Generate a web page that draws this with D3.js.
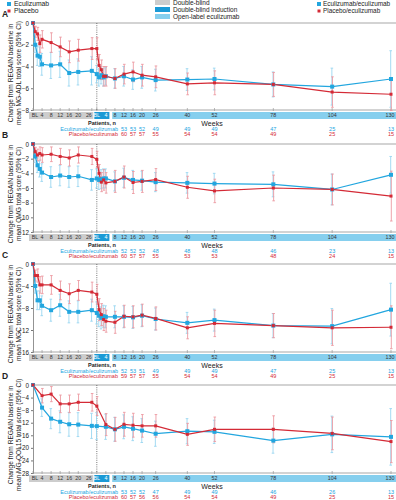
<!DOCTYPE html>
<html>
<head>
<meta charset="utf-8">
<script src="https://cdn.jsdelivr.net/npm/d3@7"></script>
<style>
  body { margin: 0; background: #fff; }
  svg { font-family: "Liberation Sans", Arial, sans-serif; display: block; }
</style>
</head>
<body>
<svg id="chart" width="396" height="500"></svg>
<script>
// weeks: double-blind (REGAIN) and open-label extension
const dbWeeks = [0, 1, 2, 3, 4, 8, 12, 16, 20, 26];
const olWeeks = [0, 1, 2, 3, 4, 8, 12, 16, 20, 26, 40, 52, 78, 104, 130];
const dbWeeksD = [0, 4, 8, 12, 16, 20, 26];
const olWeeksD = [0, 4, 8, 12, 16, 20, 26, 40, 52, 78, 104, 130];

const dbTicks = ["BL", 4, 8, 12, 16, 20, 26];
const dbTickWeeks = [0, 4, 8, 12, 16, 20, 26];
const olTicks = ["BL", 4, 8, 12, 16, 20, 26, 40, 52, 78, 104, 130];
const olTickWeeks = [0, 4, 8, 12, 16, 20, 26, 40, 52, 78, 104, 130];
const tableWeeks = [12, 16, 20, 26, 40, 52, 78, 104, 130];

// A: MG-ADL
const ecuDbA = [0, -2.0, -3.0, -3.1, -3.8, -3.9, -3.8, -4.6, -4.5, -4.4];
const ecuDbCiA = [0, 0.7, 0.9, 0.9, 1.0, 1.2, 1.2, 1.2, 1.2, 1.3];
const plaDbA = [0, -0.8, -1.0, -1.9, -1.5, -1.8, -2.2, -2.65, -2.5, -2.35];
const plaDbCiA = [0, 0.5, 0.6, 0.8, 0.8, 0.9, 0.9, 1.0, 1.0, 1.0];
const ecuOlA = [-4.7, -5.0, -4.8, -5.0, -4.9, -5.1, -4.9, -5.2, -5.0, -5.25, -5.2, -5.15, -5.65, -5.85, -5.15];
const ecuOlCiA = [0.8, 0.8, 0.8, 0.8, 0.8, 0.9, 0.9, 0.9, 1.0, 1.0, 1.0, 1.0, 1.15, 1.7, 2.6];
const plaOlA = [-2.35, -3.9, -4.3, -4.9, -4.9, -5.1, -4.7, -4.5, -4.8, -4.95, -5.6, -5.5, -5.65, -6.35, -6.55];
const plaOlCiA = [1.0, 1.0, 0.9, 0.9, 0.9, 0.9, 0.9, 0.9, 1.0, 1.0, 1.0, 1.1, 1.1, 1.4, 1.5];
const nEcuA = [53, 53, 52, 49, 49, 49, 47, 25, 13];
const nPlaA = [60, 57, 57, 55, 54, 54, 49, 25, 15];

// B: QMG
const ecuDbB = [0, -1.7, -2.9, -3.4, -3.9, -4.5, -4.3, -4.5, -4.4, -4.9];
const ecuDbCiB = [0, 0.8, 1.0, 1.1, 1.2, 1.4, 1.4, 1.4, 1.4, 1.4];
const plaDbB = [0, -1.05, -1.5, -1.3, -1.5, -1.4, -1.7, -1.9, -1.5, -1.7];
const plaDbCiB = [0, 0.6, 0.8, 0.9, 1.0, 1.0, 1.1, 1.1, 1.1, 1.1];
const ecuOlB = [-4.7, -4.9, -4.8, -4.7, -4.7, -5.1, -4.6, -4.9, -5.0, -5.2, -5.3, -5.4, -5.5, -6.2, -4.2];
const ecuOlCiB = [1.3, 1.3, 1.3, 1.3, 1.3, 1.3, 1.3, 1.3, 1.3, 1.3, 1.4, 1.4, 1.7, 2.1, 2.5];
const plaOlB = [-2.1, -4.0, -5.2, -4.9, -5.3, -5.1, -4.5, -5.25, -5.1, -4.85, -5.9, -6.4, -6.0, -6.2, -7.1];
const plaOlCiB = [1.1, 1.2, 1.3, 1.4, 1.4, 1.5, 1.5, 1.5, 1.5, 1.5, 1.5, 1.6, 1.75, 2.1, 3.4];
const nEcuB = [52, 52, 52, 48, 48, 48, 46, 23, 13];
const nPlaB = [60, 57, 57, 55, 53, 53, 48, 24, 15];

// C: MGC
const ecuDbC = [0, -4.0, -6.6, -6.6, -7.6, -8.4, -7.5, -8.7, -8.7, -8.4];
const ecuDbCiC = [0, 1.3, 1.7, 1.7, 1.8, 2.0, 2.0, 2.0, 2.0, 2.0];
const plaDbC = [0, -2.1, -2.1, -3.8, -3.8, -3.8, -4.8, -5.4, -4.8, -5.1];
const plaDbCiC = [0, 1.0, 1.2, 1.5, 1.6, 1.7, 1.7, 1.8, 1.8, 1.8];
const ecuOlC = [-8.9, -9.4, -9.8, -9.5, -9.6, -9.6, -9.6, -9.7, -9.4, -10.0, -10.7, -10.2, -11.2, -11.3, -8.3];
const ecuOlCiC = [2.0, 2.0, 2.0, 2.0, 2.0, 2.0, 2.0, 2.0, 2.0, 2.0, 1.9, 2.0, 2.2, 3.2, 4.8];
const plaOlC = [-5.5, -8.3, -9.2, -10.1, -10.4, -10.6, -9.5, -9.6, -9.3, -9.9, -11.6, -10.8, -11.2, -11.6, -11.5];
const plaOlCiC = [1.8, 2.0, 2.0, 2.0, 2.0, 2.0, 2.0, 2.0, 2.0, 2.1, 2.0, 2.4, 2.2, 3.2, 3.9];
const nEcuC = [52, 53, 51, 49, 49, 49, 47, 25, 13];
const nPlaC = [59, 57, 57, 55, 54, 54, 49, 25, 15];

// D: MG-QOL15
const ecuDbD = [0, -7.2, -10.7, -11.7, -12.5, -12.6, -13.0];
const ecuDbCiD = [0, 2.8, 3.2, 3.5, 3.8, 3.8, 4.0];
const plaDbD = [0, -3.4, -2.9, -6.0, -6.0, -5.5, -5.5];
const plaDbCiD = [0, 2.3, 2.4, 2.8, 2.8, 2.6, 2.8];
const ecuOlD = [-13.1, -13.3, -14.1, -13.3, -13.9, -14.5, -15.5, -14.7, -14.9, -17.7, -15.7, -16.5];
const ecuOlCiD = [4.3, 4.0, 3.8, 3.8, 3.8, 3.8, 4.0, 4.0, 3.7, 4.0, 5.8, 9.0];
const plaOlD = [-6.7, -12.6, -14.1, -12.5, -12.8, -13.0, -13.0, -15.7, -14.1, -14.1, -15.4, -18.0];
const plaOlCiD = [3.0, 3.5, 3.8, 3.8, 3.8, 3.6, 3.6, 3.5, 3.9, 4.3, 5.2, 6.7];
const nEcuD = [53, 52, 52, 47, 49, 49, 46, 26, 13];
const nPlaD = [60, 57, 56, 56, 54, 54, 49, 25, 15];

const BLUE = "#22a6df", BLUE_CI = "#9ad6f1";
const RED = "#d42a36", RED_CI = "#ec9aa1";
const GREY_BAND = "#cdcdcd", DARK_BAND = "#1b9ad6", LIGHT_BAND = "#86cfee";

const svg = d3.select("#chart");
const W = 396;

// continuous time: DB weeks, then a small gap, then OL weeks
const olOffset = 28.2;
const x = d3.scaleLinear().domain([0, olOffset + 130]).range([33, 391]);

function series(dbW, olW, dbV, dbCi, olV, olCi) {
    return dbW.map((w, i) => ({ t: w, v: dbV[i], ci: dbCi[i] }))
        .concat(olW.map((w, i) => ({ t: w + olOffset, v: olV[i], ci: olCi[i] })));
}

const panels = [
    { letter: "A", top: 23, bottom: 110, min: -8, step: 2, score: "mean MG-ADL total score (95% CI)",
      ecu: series(dbWeeks, olWeeks, ecuDbA, ecuDbCiA, ecuOlA, ecuOlCiA),
      pla: series(dbWeeks, olWeeks, plaDbA, plaDbCiA, plaOlA, plaOlCiA), nEcu: nEcuA, nPla: nPlaA },
    { letter: "B", top: 144, bottom: 232, min: -12, step: 2, score: "mean QMG total score (95% CI)",
      ecu: series(dbWeeks, olWeeks, ecuDbB, ecuDbCiB, ecuOlB, ecuOlCiB),
      pla: series(dbWeeks, olWeeks, plaDbB, plaDbCiB, plaOlB, plaOlCiB), nEcu: nEcuB, nPla: nPlaB },
    { letter: "C", top: 264, bottom: 352, min: -16, step: 4, score: "mean MGC total score (95% CI)",
      ecu: series(dbWeeks, olWeeks, ecuDbC, ecuDbCiC, ecuOlC, ecuOlCiC),
      pla: series(dbWeeks, olWeeks, plaDbC, plaDbCiC, plaOlC, plaOlCiC), nEcu: nEcuC, nPla: nPlaC },
    { letter: "D", top: 385, bottom: 473, min: -28, step: 4, score: "mean MG-QOL15 total score (95% CI)",
      ecu: series(dbWeeksD, olWeeksD, ecuDbD, ecuDbCiD, ecuOlD, ecuOlCiD),
      pla: series(dbWeeksD, olWeeksD, plaDbD, plaDbCiD, plaOlD, plaOlCiD), nEcu: nEcuD, nPla: nPlaD }
];

// legends
const legL = svg.append("g");
[["Eculizumab", BLUE, 4], ["Placebo", RED, 11]].forEach(([t, c, yy], i) => {
    const s = i === 0 ? 4 : 3;
    legL.append("rect").attr("x", 9 - s / 2).attr("y", yy - s / 2).attr("width", s).attr("height", s).attr("fill", c);
    legL.append("text").attr("x", 14).attr("y", yy + 2.3).attr("font-size", 6.8).attr("fill", "#222").text(t);
});
const legM = svg.append("g");
[["Double-blind", GREY_BAND, 0], ["Double-blind induction", DARK_BAND, 7], ["Open-label eculizumab", LIGHT_BAND, 14]].forEach(([t, c, yy]) => {
    legM.append("rect").attr("x", 155).attr("y", yy).attr("width", 15).attr("height", 5).attr("fill", c);
    legM.append("text").attr("x", 173).attr("y", yy + 5).attr("font-size", 6.5).attr("fill", "#222").text(t);
});
const legR = svg.append("g");
[["Eculizumab/eculizumab", BLUE, 4], ["Placebo/eculizumab", RED, 11]].forEach(([t, c, yy], i) => {
    const s = i === 0 ? 4 : 3;
    legR.append("rect").attr("x", 319 - s / 2).attr("y", yy - s / 2).attr("width", s).attr("height", s).attr("fill", c);
    legR.append("text").attr("x", 323).attr("y", yy + 2.3).attr("font-size", 6.4).attr("fill", "#222").text(t);
});

panels.forEach(p => {
    const g = svg.append("g");
    const y = d3.scaleLinear().domain([p.min, 0]).range([p.bottom, p.top]);

    g.append("text").attr("x", 2).attr("y", p.top - 6).attr("font-size", 8.5).attr("font-weight", "bold")
        .attr("fill", "#222").text(p.letter);

    // zero line and bottom axis line
    g.append("line").attr("x1", 33).attr("x2", W).attr("y1", y(0)).attr("y2", y(0))
        .attr("stroke", "#a8a8a8").attr("stroke-width", 1.2);
    g.append("line").attr("x1", 33).attr("x2", W).attr("y1", p.bottom).attr("y2", p.bottom)
        .attr("stroke", "#a8a8a8").attr("stroke-width", 1.2);

    // y axis
    const yAxis = d3.axisLeft(y).tickValues(d3.range(0, p.min - 0.1, -p.step)).tickSize(2).tickPadding(2);
    const ya = g.append("g").attr("transform", "translate(33,0)").call(yAxis);
    ya.select(".domain").attr("stroke", "#777").attr("stroke-width", 0.8);
    ya.selectAll(".tick line").attr("stroke", "#777");
    ya.selectAll(".tick text").attr("font-size", 6.3).attr("fill", "#222").attr("font-family", "Liberation Sans, Arial, sans-serif");

    // y title
    const cy = p.top + 50;
    const yt = g.append("text").attr("transform", `translate(12.5,${cy}) rotate(-90)`)
        .attr("text-anchor", "middle").attr("font-size", 6.6).attr("fill", "#222");
    yt.append("tspan").attr("x", 0).attr("dy", 0).text("Change from REGAIN baseline in");
    yt.append("tspan").attr("x", 0).attr("dy", 8).text(p.score);

    // phase bands
    const bT = p.bottom + 2, bH = 7;
    g.append("rect").attr("x", 29).attr("y", bT).attr("width", x(26) + 1.5 - 29).attr("height", bH).attr("fill", GREY_BAND);
    g.append("rect").attr("x", x(olOffset) - 2.5).attr("y", bT).attr("width", x(olOffset + 6) - x(olOffset) + 1.5).attr("height", bH).attr("fill", DARK_BAND);
    g.append("rect").attr("x", x(olOffset + 6.8)).attr("y", bT).attr("width", W - x(olOffset + 6.8)).attr("height", bH).attr("fill", LIGHT_BAND);

    dbTicks.forEach((lab, i) => {
        const xx = x(dbTickWeeks[i]) - (dbTickWeeks[i] === 26 ? 3 : 0);
        g.append("line").attr("x1", x(dbTickWeeks[i])).attr("x2", x(dbTickWeeks[i])).attr("y1", p.bottom - 2).attr("y2", p.bottom + 1).attr("stroke", "#999").attr("stroke-width", 0.7);
        g.append("text").attr("x", xx + (i === 0 ? 2 : 0)).attr("y", bT + 5.3).attr("text-anchor", "middle")
            .attr("font-size", 5.3).attr("fill", "#333").text(lab);
    });
    olTicks.forEach((lab, i) => {
        const w = olTickWeeks[i];
        g.append("line").attr("x1", x(w + olOffset)).attr("x2", x(w + olOffset)).attr("y1", p.bottom - 2).attr("y2", p.bottom + 1).attr("stroke", "#999").attr("stroke-width", 0.7);
        g.append("text").attr("x", x(w + olOffset) - (w === 130 ? 1 : 0)).attr("y", bT + 5.3).attr("text-anchor", "middle")
            .attr("font-size", 5.3).attr("fill", w <= 4 ? "#fff" : "#333").text(lab);
    });

    // dotted divider
    g.append("line").attr("x1", x(olOffset)).attr("x2", x(olOffset)).attr("y1", y(0)).attr("y2", p.bottom)
        .attr("stroke", "#555").attr("stroke-width", 0.8).attr("stroke-dasharray", "1,1.2");

    // error bars
    function errBars(data, col, dx) {
        const eb = g.append("g").attr("stroke", col).attr("stroke-width", 0.9);
        data.filter(d => d.ci > 0).forEach(d => {
            const xx = x(d.t) + dx;
            eb.append("line").attr("x1", xx).attr("x2", xx).attr("y1", y(d.v + d.ci)).attr("y2", y(d.v - d.ci));
            eb.append("line").attr("x1", xx - 1.3).attr("x2", xx + 1.3).attr("y1", y(d.v + d.ci)).attr("y2", y(d.v + d.ci));
            eb.append("line").attr("x1", xx - 1.3).attr("x2", xx + 1.3).attr("y1", y(d.v - d.ci)).attr("y2", y(d.v - d.ci));
        });
    }
    errBars(p.ecu, BLUE_CI, -0.3);
    errBars(p.pla, RED_CI, 0.3);

    const line = d3.line().x(d => x(d.t)).y(d => y(d.v));
    g.append("path").datum(p.ecu).attr("d", line).attr("fill", "none").attr("stroke", BLUE).attr("stroke-width", 1.2);
    g.append("path").datum(p.pla).attr("d", line).attr("fill", "none").attr("stroke", RED).attr("stroke-width", 1.2);

    g.selectAll(".me").data(p.ecu).enter().append("rect")
        .attr("x", d => x(d.t) - 2).attr("y", d => y(d.v) - 2).attr("width", 4).attr("height", 4).attr("fill", BLUE);
    g.selectAll(".mp").data(p.pla).enter().append("rect")
        .attr("x", d => x(d.t) - 1.5).attr("y", d => y(d.v) - 1.5).attr("width", 3).attr("height", 3).attr("fill", RED);

    // patients table
    const tY = bT + bH + 6;
    g.append("text").attr("x", 102).attr("y", tY).attr("text-anchor", "middle").attr("font-size", 5.5)
        .attr("font-weight", "bold").attr("fill", "#222").text("Patients, n");
    g.append("text").attr("x", 212).attr("y", tY + 0.5).attr("text-anchor", "middle").attr("font-size", 7)
        .attr("fill", "#222").text("Weeks");
    g.append("text").attr("x", 118).attr("y", tY + 5.5).attr("text-anchor", "end").attr("font-size", 5.5)
        .attr("fill", BLUE).text("Eculizumab/eculizumab");
    g.append("text").attr("x", 118).attr("y", tY + 10.5).attr("text-anchor", "end").attr("font-size", 5.5)
        .attr("fill", RED).text("Placebo/eculizumab");
    tableWeeks.forEach((w, i) => {
        g.append("text").attr("x", x(w + olOffset)).attr("y", tY + 5.5).attr("text-anchor", "middle")
            .attr("font-size", 5.5).attr("fill", BLUE).text(p.nEcu[i]);
        g.append("text").attr("x", x(w + olOffset)).attr("y", tY + 10.5).attr("text-anchor", "middle")
            .attr("font-size", 5.5).attr("fill", RED).text(p.nPla[i]);
    });
});
</script>
</body>
</html>
